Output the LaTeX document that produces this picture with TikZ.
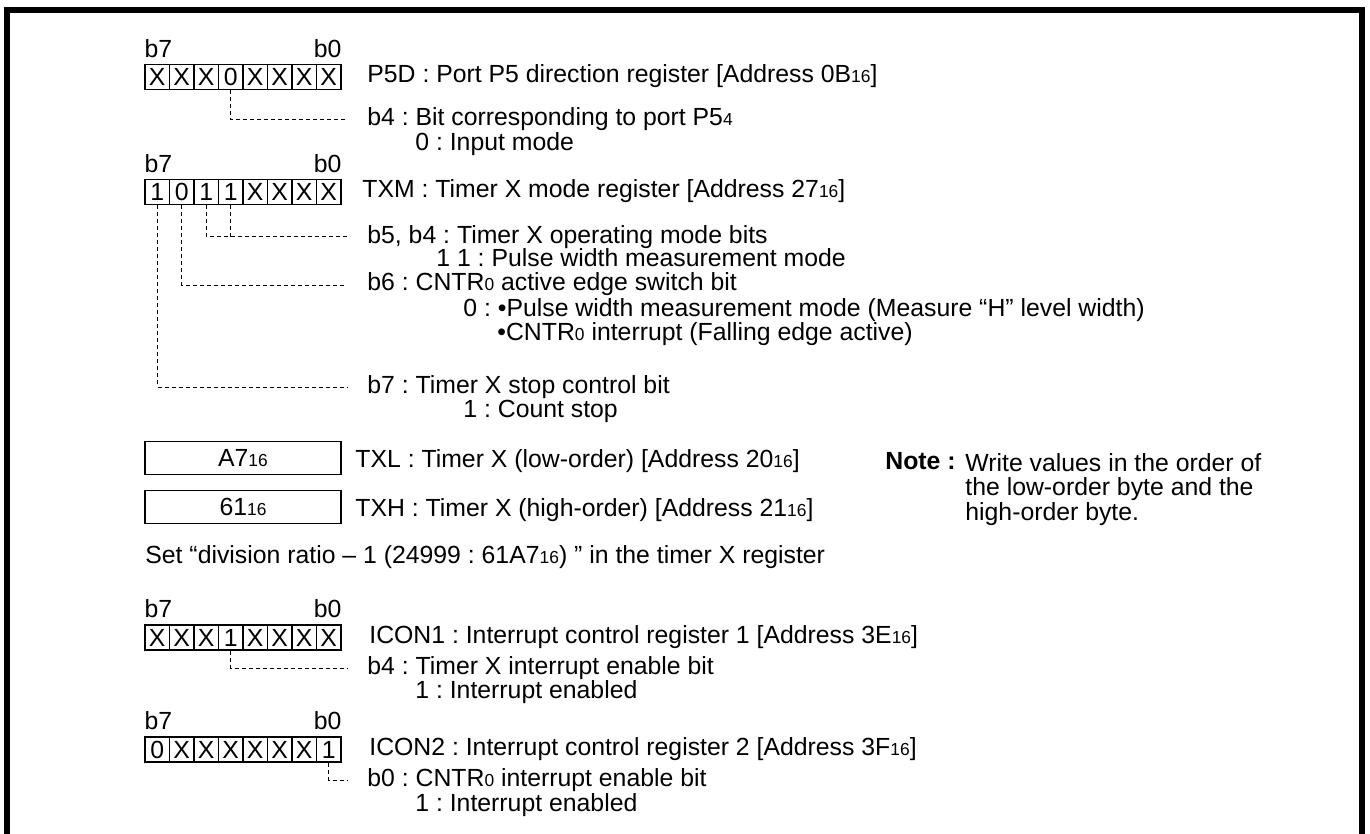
\documentclass[tikz,border=0pt]{standalone}
\usepackage{fontspec}
\setmainfont{Liberation Sans}
\usepackage{tikz}
\usetikzlibrary{positioning,calc}

\newcommand{\lo}[1]{{\fontsize{8.7}{8.7}\selectfont #1}}
\frenchspacing

\begin{document}
\begin{tikzpicture}[x=0.5pt,y=-0.5pt,
    font=\fontsize{12.4}{12.2}\selectfont,
    bitcell/.style={draw, line width=0.8pt, minimum width=12.25pt, minimum height=12.5pt, inner sep=0pt},
    bitlbl/.style={inner sep=0pt},
    desc/.style={anchor=west, inner sep=0pt, text height=8.5pt, text depth=2.5pt},
    leader/.style={line width=0.5pt, dash pattern=on 2pt off 1.5pt, shorten >=10pt},
    valbox/.style={draw, line width=0.8pt, minimum width=98pt, minimum height=16.5pt, inner sep=0pt}]
	\useasboundingbox (0,0) rectangle (1370,834);
	\draw[line width=3pt] (7,834) -- (7,10.5) -- (1362,10.5) -- (1362,834);

	% P5D
	\foreach \v [count=\i from 0, evaluate=\i as \bn using int(7-\i)] in {X,X,X,0,X,X,X,X}
		\node[bitcell] (pd\bn) at ({157.25+24.5*\i},77) {\v};
	\node[bitlbl, above=3pt of pd7.north west, anchor=south west] (pdhi) {b7};
	\node[bitlbl, above=3pt of pd0.north east, anchor=south east] (pdlo) {b0};
	\node[desc] (pdname) at (367,77) {P5D : Port P5 direction register [Address 0B\lo{16}]};
	\node[desc] (pdb4) at (367,120) {b4 : Bit corresponding to port P5\lo{4}};
	\node[desc] (pdb4v) at (415,145) {0 : Input mode};
	\draw[leader] (pd4.south) |- (pdb4.west);

	% TXM
	\foreach \v [count=\i from 0, evaluate=\i as \bn using int(7-\i)] in {1,0,1,1,X,X,X,X}
		\node[bitcell] (tm\bn) at ({157.25+24.5*\i},192) {\v};
	\node[bitlbl, above=3pt of tm7.north west, anchor=south west] (tmhi) {b7};
	\node[bitlbl, above=3pt of tm0.north east, anchor=south east] (tmlo) {b0};
	\node[desc] (tmname) at (362,192) {TXM : Timer X mode register [Address 27\lo{16}]};
	\node[desc] (tmb54) at (367,237) {b5, b4 : Timer X operating mode bits};
	\node[desc] (tmb54v) at (436,261) {1 1 : Pulse width measurement mode};
	\node[desc] (tmb6) at (367,285) {b6 : CNTR\lo{0} active edge switch bit};
	\node[desc] (tmb6v) at (463,310) {0 : •Pulse width measurement mode (Measure “H” level width)};
	\node[desc] (tmb6w) at (497,334) {•CNTR\lo{0} interrupt (Falling edge active)};
	\node[desc] (tmb7) at (367,387) {b7 : Timer X stop control bit};
	\node[desc] (tmb7v) at (463,411) {1 : Count stop};
	\draw[leader] (tm5.south) |- (tmb54.west);
	\draw[leader, shorten >=0pt] (tm4.south) -- (tm4.south |- tmb54.west);
	\draw[leader] (tm6.south) |- (tmb6.west);
	\draw[leader] (tm7.south) |- (tmb7.west);

	% TXL, TXH
	\node[valbox] (txlval) at (243,458) {A7\lo{16}};
	\node[valbox] (txhval) at (243,507) {61\lo{16}};
	\node[desc] (txlname) at (355,461) {TXL : Timer X (low-order) [Address 20\lo{16}]};
	\node[desc] (txhname) at (355,510) {TXH : Timer X (high-order) [Address 21\lo{16}]};
	\node[desc, font=\fontsize{12.4}{12.2}\selectfont\bfseries] (notehd) at (885,463) {Note :};
	\node[anchor=north west, inner sep=0pt, align=left] (notebody) at (965,453)
		{Write values in the order of\\the low-order byte and the\\high-order byte.};
	\node[desc] (divline) at (145,557) {Set “division ratio – 1 (24999 : 61A7\lo{16}) ” in the timer X register};

	% ICON1
	\foreach \v [count=\i from 0, evaluate=\i as \bn using int(7-\i)] in {X,X,X,1,X,X,X,X}
		\node[bitcell] (ia\bn) at ({157.25+24.5*\i},637.5) {\v};
	\node[bitlbl, above=3pt of ia7.north west, anchor=south west] (iahi) {b7};
	\node[bitlbl, above=3pt of ia0.north east, anchor=south east] (ialo) {b0};
	\node[desc] (ianame) at (369,637) {ICON1 : Interrupt control register 1 [Address 3E\lo{16}]};
	\node[desc] (iab4) at (367,668) {b4 : Timer X interrupt enable bit};
	\node[desc] (iab4v) at (415,692) {1 : Interrupt enabled};
	\draw[leader] (ia4.south) |- (iab4.west);

	% ICON2
	\foreach \v [count=\i from 0, evaluate=\i as \bn using int(7-\i)] in {0,X,X,X,X,X,X,1}
		\node[bitcell] (ib\bn) at ({157.25+24.5*\i},749.5) {\v};
	\node[bitlbl, above=3pt of ib7.north west, anchor=south west] (ibhi) {b7};
	\node[bitlbl, above=3pt of ib0.north east, anchor=south east] (iblo) {b0};
	\node[desc] (ibname) at (369,749) {ICON2 : Interrupt control register 2 [Address 3F\lo{16}]};
	\node[desc] (ibb0) at (367,780) {b0 : CNTR\lo{0} interrupt enable bit};
	\node[desc] (ibb0v) at (415,805) {1 : Interrupt enabled};
	\draw[leader] (ib0.south) |- (ibb0.west);
\end{tikzpicture}
\end{document}
